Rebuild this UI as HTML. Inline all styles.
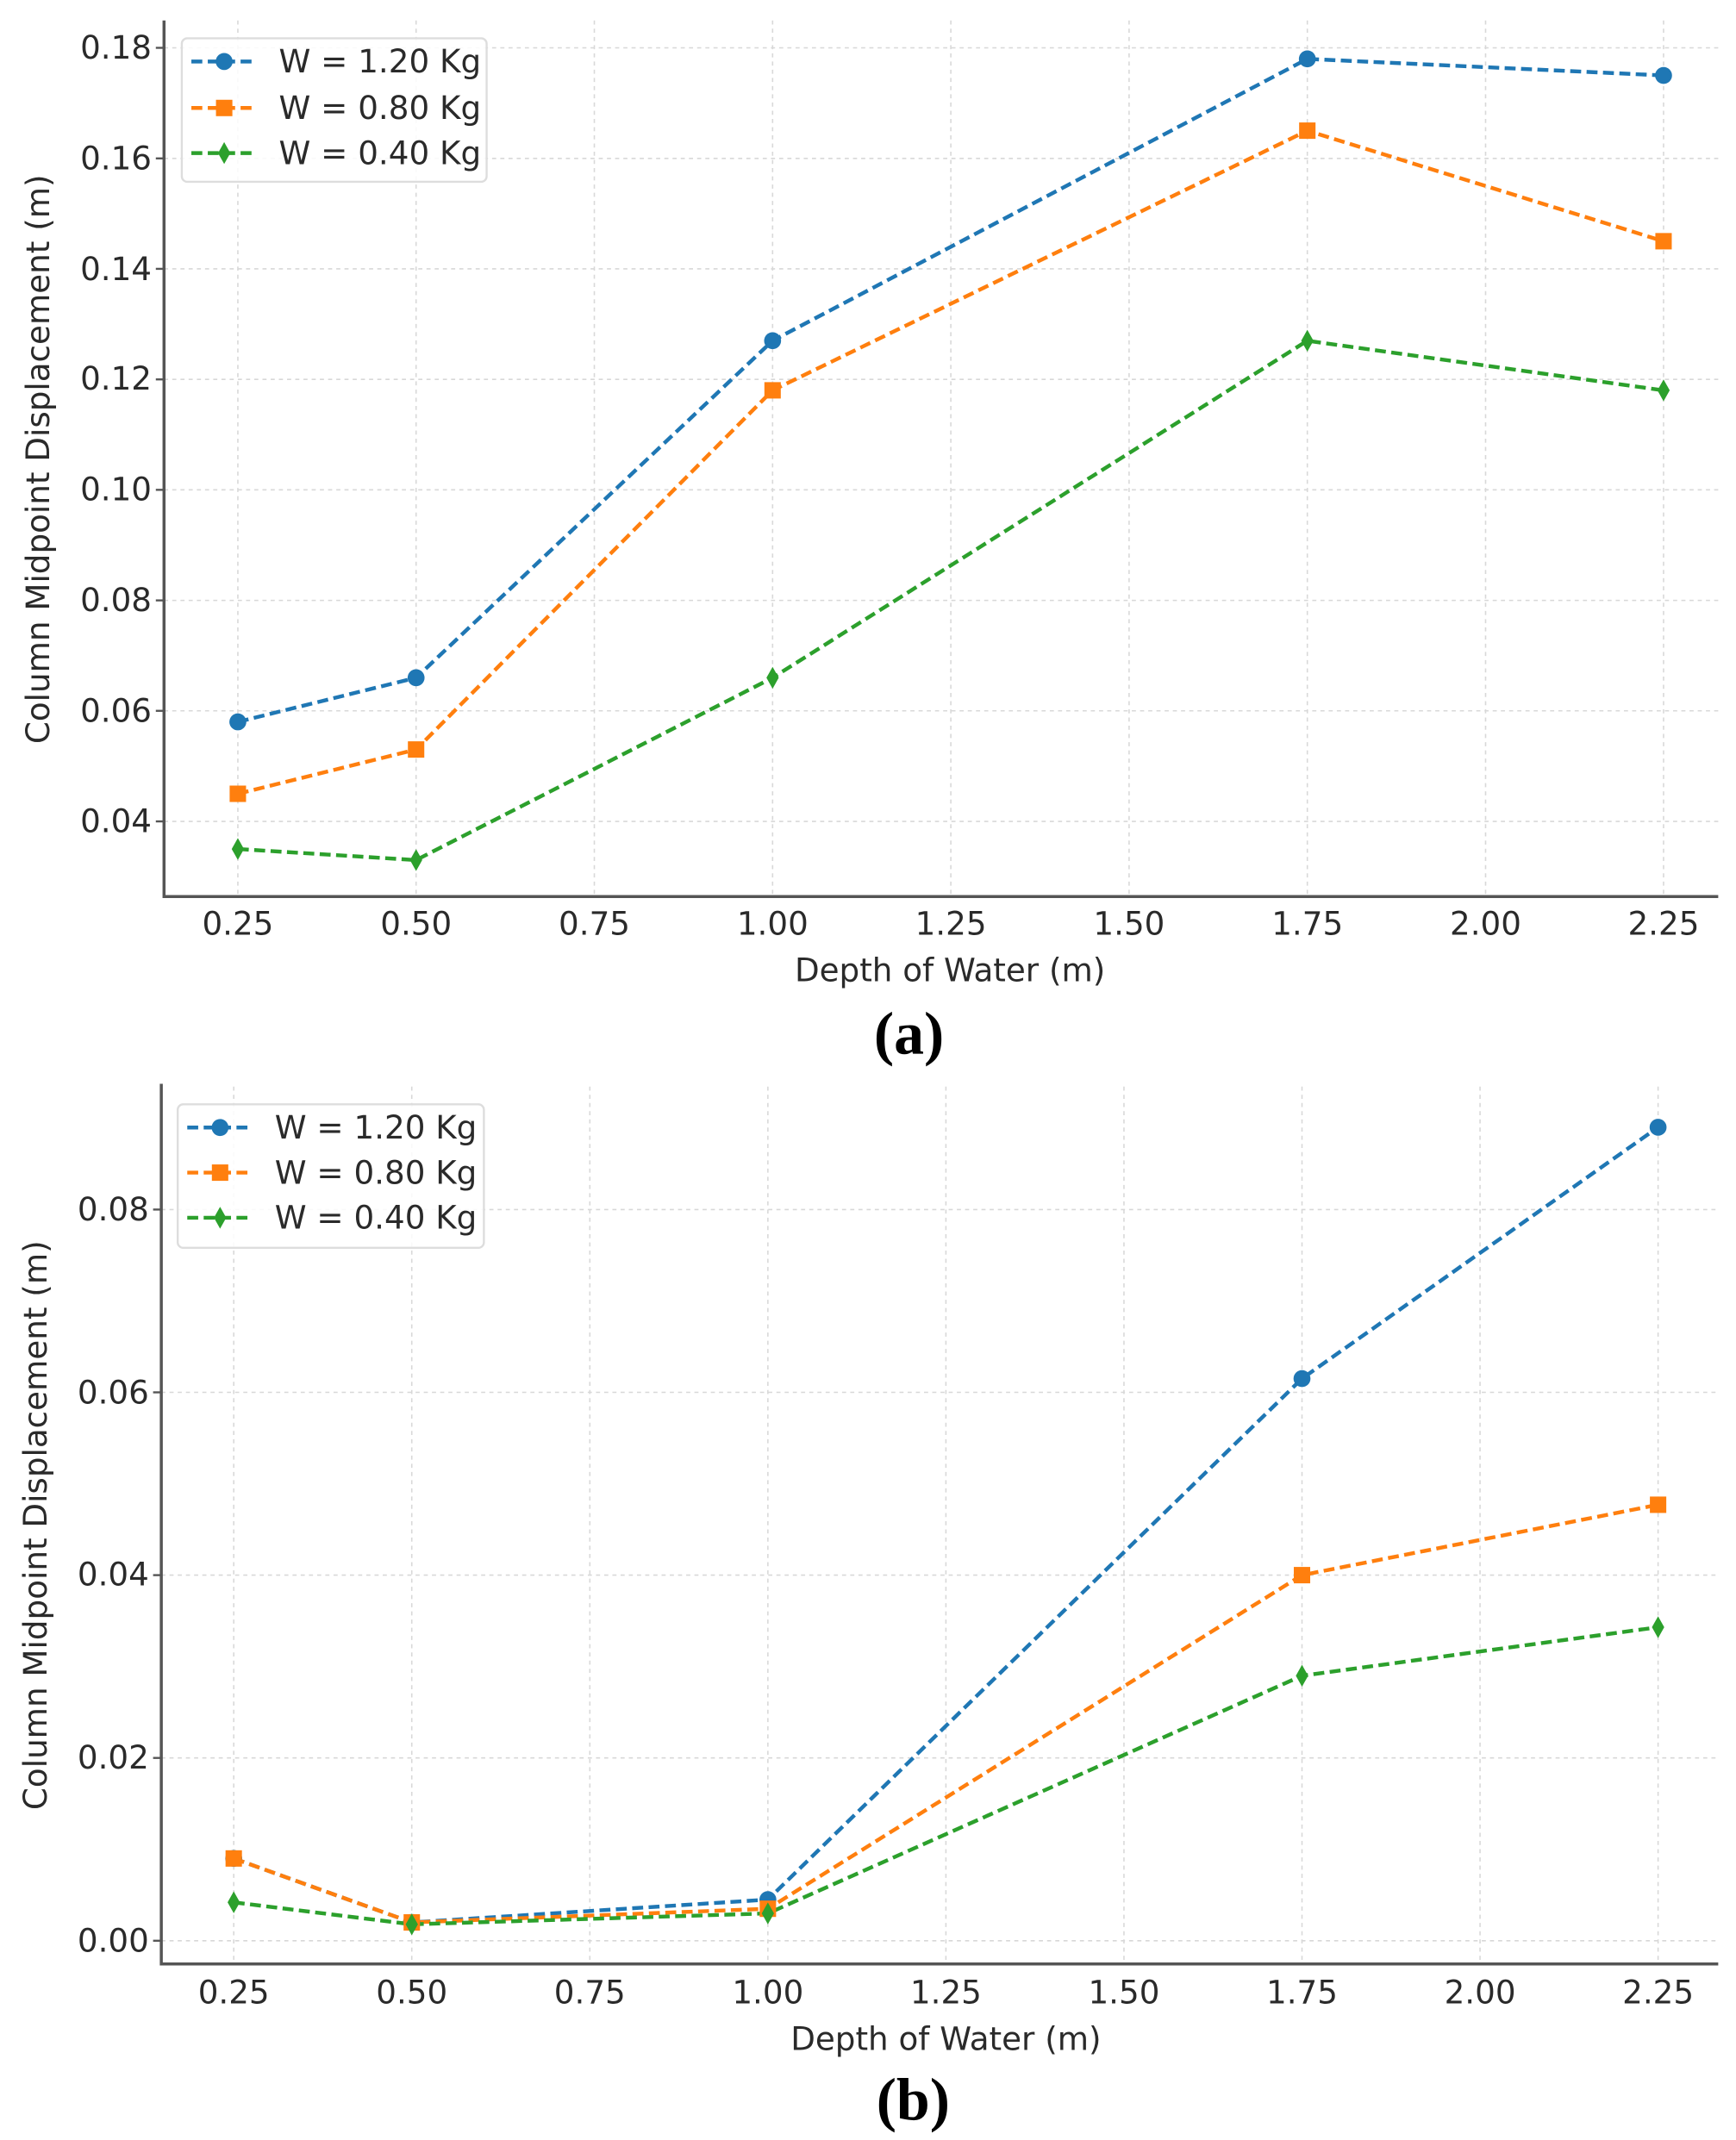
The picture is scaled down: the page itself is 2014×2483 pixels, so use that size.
<!DOCTYPE html>
<html><head><meta charset="utf-8"><style>
html,body{margin:0;padding:0;background:#fff;}
svg{display:block;}
text{font-family:"DejaVu Sans","Liberation Sans",sans-serif;fill:#2a2a2a;}
.t{font-size:23.5px;}
.grid line{stroke:#d8d8d8;stroke-width:1;stroke-dasharray:3,3;}
.ser{fill:none;stroke-width:2.8;stroke-dasharray:8,4;}
</style></head><body>
<svg width="2014" height="2483" viewBox="0 0 1270 1565.8" preserveAspectRatio="none" xmlns="http://www.w3.org/2000/svg">
<!-- Panel A -->
<g class="grid">
<line x1="120" x2="1257" y1="601" y2="601"/><line x1="120" x2="1257" y1="520.1" y2="520.1"/><line x1="120" x2="1257" y1="439.3" y2="439.3"/><line x1="120" x2="1257" y1="358.4" y2="358.4"/><line x1="120" x2="1257" y1="277.6" y2="277.6"/><line x1="120" x2="1257" y1="196.7" y2="196.7"/><line x1="120" x2="1257" y1="115.9" y2="115.9"/><line x1="120" x2="1257" y1="35" y2="35"/>
<line y1="15" y2="656" x1="174" x2="174"/><line y1="15" y2="656" x1="304.4" x2="304.4"/><line y1="15" y2="656" x1="434.8" x2="434.8"/><line y1="15" y2="656" x1="565.2" x2="565.2"/><line y1="15" y2="656" x1="695.6" x2="695.6"/><line y1="15" y2="656" x1="826" x2="826"/><line y1="15" y2="656" x1="956.4" x2="956.4"/><line y1="15" y2="656" x1="1086.8" x2="1086.8"/><line y1="15" y2="656" x1="1217" x2="1217"/>
</g>
<path d="M120 15 V656 H1257" fill="none" stroke="#555" stroke-width="2.2"/>
<g stroke="#555" stroke-width="1.5">
<line x1="114" x2="120" y1="601" y2="601"/><line x1="114" x2="120" y1="520.1" y2="520.1"/><line x1="114" x2="120" y1="439.3" y2="439.3"/><line x1="114" x2="120" y1="358.4" y2="358.4"/><line x1="114" x2="120" y1="277.6" y2="277.6"/><line x1="114" x2="120" y1="196.7" y2="196.7"/><line x1="114" x2="120" y1="115.9" y2="115.9"/><line x1="114" x2="120" y1="35" y2="35"/>
</g>
<g class="t" text-anchor="end">
<text x="111" y="609">0.04</text><text x="111" y="528">0.06</text><text x="111" y="447">0.08</text><text x="111" y="366">0.10</text><text x="111" y="285">0.12</text><text x="111" y="205">0.14</text><text x="111" y="124">0.16</text><text x="111" y="43">0.18</text>
</g>
<g class="t" text-anchor="middle">
<text x="174" y="684">0.25</text><text x="304.4" y="684">0.50</text><text x="434.8" y="684">0.75</text><text x="565.2" y="684">1.00</text><text x="695.6" y="684">1.25</text><text x="826" y="684">1.50</text><text x="956.4" y="684">1.75</text><text x="1086.8" y="684">2.00</text><text x="1217" y="684">2.25</text>
<text x="695" y="718">Depth of Water (m)</text>
</g>
<text class="t" transform="translate(36,336) rotate(-90)" text-anchor="middle">Column Midpoint Displacement (m)</text>
<text x="665" y="771" text-anchor="middle" style="font-family:'Liberation Serif',serif;font-weight:bold;font-size:44px;fill:#000">(a)</text>
<polyline class="ser" stroke="#1f77b4" points="174,528.2 304.4,495.9 565.2,249.3 956.4,43.1 1217,55.2"/>
<polyline class="ser" stroke="#ff7f0e" points="174,580.8 304.4,548.4 565.2,285.6 956.4,95.6 1217,176.5"/>
<polyline class="ser" stroke="#2ca02c" points="174,621.2 304.4,629.3 565.2,495.9 956.4,249.3 1217,285.6"/>
<g fill="#1f77b4"><circle cx="174" cy="528.2" r="6.2"/><circle cx="304.4" cy="495.9" r="6.2"/><circle cx="565.2" cy="249.3" r="6.2"/><circle cx="956.4" cy="43.1" r="6.2"/><circle cx="1217" cy="55.2" r="6.2"/></g>
<g fill="#ff7f0e"><rect x="168" y="574.8" width="12" height="12"/><rect x="298.4" y="542.4" width="12" height="12"/><rect x="559.2" y="279.6" width="12" height="12"/><rect x="950.4" y="89.6" width="12" height="12"/><rect x="1211" y="170.5" width="12" height="12"/></g>
<g fill="#2ca02c"><path d="M174 613.2l4.5 8-4.5 8-4.5-8z"/><path d="M304.4 621.3l4.5 8-4.5 8-4.5-8z"/><path d="M565.2 487.9l4.5 8-4.5 8-4.5-8z"/><path d="M956.4 241.3l4.5 8-4.5 8-4.5-8z"/><path d="M1217 277.6l4.5 8-4.5 8-4.5-8z"/></g>
<rect x="133" y="28" width="223" height="105" rx="4" fill="#fff" fill-opacity="0.85" stroke="#ddd" stroke-width="1.5"/>
<line x1="140" x2="188" y1="45" y2="45" class="ser" stroke="#1f77b4"/><circle cx="164" cy="45" r="6.2" fill="#1f77b4"/>
<line x1="140" x2="188" y1="79" y2="79" class="ser" stroke="#ff7f0e"/><rect x="158" y="73" width="12" height="12" fill="#ff7f0e"/>
<line x1="140" x2="188" y1="112" y2="112" class="ser" stroke="#2ca02c"/><path d="M164 104l4.5 8-4.5 8-4.5-8z" fill="#2ca02c"/>
<g class="t"><text x="204" y="53">W = 1.20 Kg</text><text x="204" y="87">W = 0.80 Kg</text><text x="204" y="120">W = 0.40 Kg</text></g>

<!-- Panel B -->
<g class="grid">
<line x1="118" x2="1257" y1="1420" y2="1420"/><line x1="118" x2="1257" y1="1286.25" y2="1286.25"/><line x1="118" x2="1257" y1="1152.5" y2="1152.5"/><line x1="118" x2="1257" y1="1018.75" y2="1018.75"/><line x1="118" x2="1257" y1="885" y2="885"/>
<line y1="795" y2="1437" x1="171" x2="171"/><line y1="795" y2="1437" x1="301.25" x2="301.25"/><line y1="795" y2="1437" x1="431.5" x2="431.5"/><line y1="795" y2="1437" x1="561.75" x2="561.75"/><line y1="795" y2="1437" x1="692" x2="692"/><line y1="795" y2="1437" x1="822.25" x2="822.25"/><line y1="795" y2="1437" x1="952.5" x2="952.5"/><line y1="795" y2="1437" x1="1082.75" x2="1082.75"/><line y1="795" y2="1437" x1="1213" x2="1213"/>
</g>
<path d="M118 793 V1437 H1257" fill="none" stroke="#555" stroke-width="2.2"/>
<g stroke="#555" stroke-width="1.5">
<line x1="112" x2="118" y1="1420" y2="1420"/><line x1="112" x2="118" y1="1286.25" y2="1286.25"/><line x1="112" x2="118" y1="1152.5" y2="1152.5"/><line x1="112" x2="118" y1="1018.75" y2="1018.75"/><line x1="112" x2="118" y1="885" y2="885"/>
</g>
<g class="t" text-anchor="end">
<text x="109" y="1428">0.00</text><text x="109" y="1294">0.02</text><text x="109" y="1160">0.04</text><text x="109" y="1027">0.06</text><text x="109" y="893">0.08</text>
</g>
<g class="t" text-anchor="middle">
<text x="171" y="1466">0.25</text><text x="301.25" y="1466">0.50</text><text x="431.5" y="1466">0.75</text><text x="561.75" y="1466">1.00</text><text x="692" y="1466">1.25</text><text x="822.25" y="1466">1.50</text><text x="952.5" y="1466">1.75</text><text x="1082.75" y="1466">2.00</text><text x="1213" y="1466">2.25</text>
<text x="692" y="1500">Depth of Water (m)</text>
</g>
<text class="t" transform="translate(34,1116) rotate(-90)" text-anchor="middle">Column Midpoint Displacement (m)</text>
<text x="668" y="1551" text-anchor="middle" style="font-family:'Liberation Serif',serif;font-weight:bold;font-size:44px;fill:#000">(b)</text>
<polyline class="ser" stroke="#1f77b4" points="171,1359.8 301.25,1406.6 561.75,1389.9 952.5,1008.7 1213,824.8"/>
<polyline class="ser" stroke="#ff7f0e" points="171,1359.8 301.25,1406.6 561.75,1396.6 952.5,1152.5 1213,1101"/>
<polyline class="ser" stroke="#2ca02c" points="171,1391.9 301.25,1408 561.75,1400 952.5,1226.1 1213,1190.6"/>
<g fill="#1f77b4"><circle cx="171" cy="1359.8" r="6.2"/><circle cx="301.25" cy="1406.6" r="6.2"/><circle cx="561.75" cy="1389.9" r="6.2"/><circle cx="952.5" cy="1008.7" r="6.2"/><circle cx="1213" cy="824.8" r="6.2"/></g>
<g fill="#ff7f0e"><rect x="165" y="1353.8" width="12" height="12"/><rect x="295.25" y="1400.6" width="12" height="12"/><rect x="555.75" y="1390.6" width="12" height="12"/><rect x="946.5" y="1146.5" width="12" height="12"/><rect x="1207" y="1095" width="12" height="12"/></g>
<g fill="#2ca02c"><path d="M171 1383.9l4.5 8-4.5 8-4.5-8z"/><path d="M301.25 1400l4.5 8-4.5 8-4.5-8z"/><path d="M561.75 1392l4.5 8-4.5 8-4.5-8z"/><path d="M952.5 1218.1l4.5 8-4.5 8-4.5-8z"/><path d="M1213 1182.6l4.5 8-4.5 8-4.5-8z"/></g>
<rect x="130" y="808" width="224" height="105" rx="4" fill="#fff" fill-opacity="0.85" stroke="#ddd" stroke-width="1.5"/>
<line x1="137" x2="185" y1="825" y2="825" class="ser" stroke="#1f77b4"/><circle cx="161" cy="825" r="6.2" fill="#1f77b4"/>
<line x1="137" x2="185" y1="858" y2="858" class="ser" stroke="#ff7f0e"/><rect x="155" y="852" width="12" height="12" fill="#ff7f0e"/>
<line x1="137" x2="185" y1="891" y2="891" class="ser" stroke="#2ca02c"/><path d="M161 883l4.5 8-4.5 8-4.5-8z" fill="#2ca02c"/>
<g class="t"><text x="201" y="833">W = 1.20 Kg</text><text x="201" y="866">W = 0.80 Kg</text><text x="201" y="899">W = 0.40 Kg</text></g>
</svg>
</body></html>
